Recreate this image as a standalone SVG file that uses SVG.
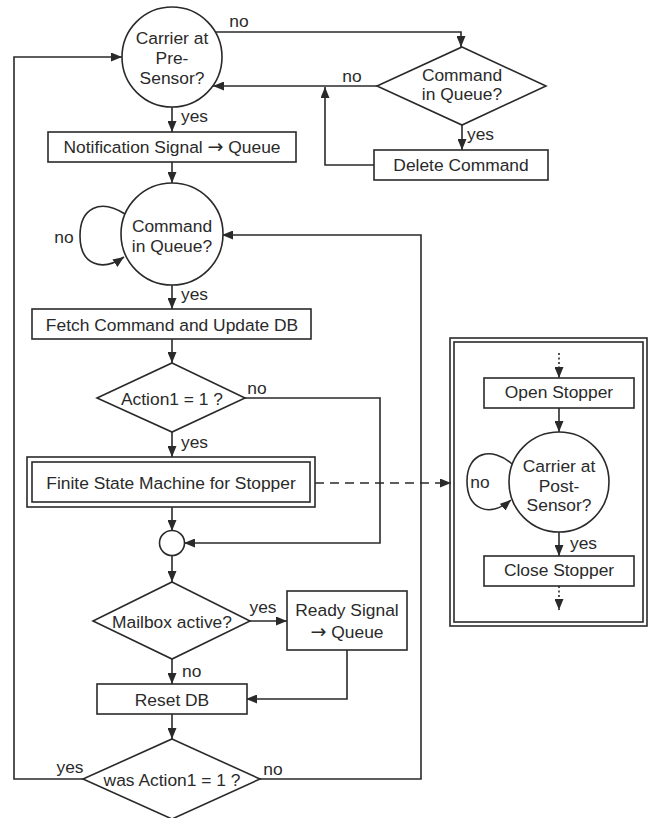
<svg xmlns="http://www.w3.org/2000/svg" width="651" height="818" viewBox="0 0 651 818">
  <defs>
    <marker id="arrow" markerUnits="userSpaceOnUse" markerWidth="11" markerHeight="9" refX="11" refY="4.5" orient="auto">
      <path d="M0,0 L11,4.5 L0,9 z" fill="#2a2a2a"/>
    </marker>
  </defs>
  <style>
    .shape { fill: #ffffff; stroke: #2a2a2a; stroke-width: 1.6; }
    .line { fill: none; stroke: #2a2a2a; stroke-width: 1.6; }
    .arr { marker-end: url(#arrow); }
    .dash { stroke-dasharray: 9 6; }
    .dot { stroke-dasharray: 2 2.5; }
    text { font-family: "Liberation Sans", Arial, sans-serif; font-size: 17.4px; fill: #2a2a2a; }
    .c { text-anchor: middle; }
    .sym { font-family: "DejaVu Sans", sans-serif; font-size: 19px; }
  </style>
  <rect width="651" height="818" fill="#ffffff"/>

  <!-- frame holding the stopper state machine (drawn first, its contents sit on top) -->
  <g id="stopper-panel">
    <rect class="shape" x="450" y="338" width="197" height="288"/>
    <rect class="shape" x="454" y="342" width="189" height="280"/>
  </g>

  <g id="connectors">
    <!-- pre-sensor: no -> command check -->
    <path class="line arr" d="M215,32 H461 V47"/>
    <text x="239" y="27" class="c">no</text>
    <!-- command check: no -> back to pre-sensor -->
    <path class="line arr" d="M377,86 H213"/>
    <text x="352" y="82" class="c">no</text>
    <!-- command check: yes -> delete -->
    <path class="line arr" d="M462,125 V150"/>
    <text x="467" y="140">yes</text>
    <!-- delete -> merge -->
    <path class="line arr" d="M374,165 H325 V87"/>
    <!-- pre-sensor: yes -> notification -->
    <path class="line arr" d="M172,107 V132"/>
    <text x="181" y="122">yes</text>
    <!-- notification -> command in queue -->
    <path class="line arr" d="M172,162 V183"/>
    <!-- command in queue: no self loop -->
    <path class="line arr" d="M125,214 C100,198 80,208 80,236 C80,265 102,272 124,257"/>
    <text x="64" y="243" class="c">no</text>
    <!-- command in queue: yes -> fetch -->
    <path class="line arr" d="M172,285 V309"/>
    <text x="181" y="300">yes</text>
    <!-- fetch -> action1 -->
    <path class="line arr" d="M172,339 V363"/>
    <!-- action1: no -> junction -->
    <path class="line arr" d="M245,398 H380 V543 H184"/>
    <text x="257" y="394" class="c">no</text>
    <!-- action1: yes -> fsm -->
    <path class="line arr" d="M172,432 V457"/>
    <text x="181" y="448">yes</text>
    <!-- fsm -> junction -->
    <path class="line arr" d="M172,507 V531"/>
    <!-- fsm detail reference -->
    <path class="line dash arr" d="M315,483 H451"/>
    <!-- junction -> mailbox -->
    <path class="line arr" d="M172,556 V582"/>
    <!-- mailbox: yes -> ready signal -->
    <path class="line arr" d="M250,621 H287"/>
    <text x="263" y="613" class="c">yes</text>
    <!-- mailbox: no -> reset -->
    <path class="line arr" d="M172,659 V684"/>
    <text x="182" y="677">no</text>
    <!-- ready signal -> reset -->
    <path class="line arr" d="M347,650 V699 H246"/>
    <!-- reset -> was action1 -->
    <path class="line arr" d="M172,714 V739"/>
    <!-- was action1: yes -> pre-sensor -->
    <path class="line arr" d="M83,779 H14 V57 H122"/>
    <text x="70" y="773" class="c">yes</text>
    <!-- was action1: no -> command in queue -->
    <path class="line arr" d="M260,779 H421 V235 H222"/>
    <text x="273" y="775" class="c">no</text>
    <!-- stopper state machine flow -->
    <path class="line dot arr" d="M559,353 V378"/>
    <path class="line arr" d="M559,408 V432"/>
    <path class="line arr" d="M512,464 C492,446 467,452 467,481 C467,510 490,518 511,500"/>
    <text x="480" y="488" class="c">no</text>
    <path class="line arr" d="M559,532 V556"/>
    <text x="570" y="549">yes</text>
    <path class="line dot arr" d="M559,586 V610"/>
  </g>

  <g id="carrier-pre-sensor">
    <circle class="shape" cx="172" cy="57" r="50"/>
    <text x="172" y="44" class="c">Carrier at</text>
    <text x="172" y="64" class="c">Pre-</text>
    <text x="172" y="84" class="c">Sensor?</text>
  </g>

  <g id="command-check">
    <polygon class="shape" points="462,47 546,86 462,125 377,86"/>
    <text x="462" y="81" class="c">Command</text>
    <text x="462" y="100" class="c">in Queue?</text>
  </g>

  <g id="delete-command">
    <rect class="shape" x="374" y="150" width="174" height="30"/>
    <text x="461" y="171" class="c">Delete Command</text>
  </g>

  <g id="notification">
    <rect class="shape" x="48" y="132" width="248" height="30"/>
    <text x="172" y="153" class="c">Notification Signal <tspan class="sym">→</tspan> Queue</text>
  </g>

  <g id="command-in-queue">
    <circle class="shape" cx="172" cy="234" r="51"/>
    <text x="172" y="232" class="c">Command</text>
    <text x="172" y="252" class="c">in Queue?</text>
  </g>

  <g id="fetch-command">
    <rect class="shape" x="32" y="309" width="279" height="30"/>
    <text x="172" y="331" class="c">Fetch Command and Update DB</text>
  </g>

  <g id="action1">
    <polygon class="shape" points="172,363 245,398 172,432 97,398"/>
    <text x="172" y="405" class="c">Action1 = 1 ?</text>
  </g>

  <g id="fsm-stopper">
    <rect class="shape" x="27" y="457" width="288" height="50"/>
    <rect class="shape" x="32" y="462" width="278" height="40"/>
    <text x="171" y="489" class="c">Finite State Machine for Stopper</text>
  </g>

  <g id="junction">
    <circle class="shape" cx="172" cy="543" r="12.5"/>
  </g>

  <g id="mailbox">
    <polygon class="shape" points="172,582 250,621 172,659 93,621"/>
    <text x="172" y="628" class="c">Mailbox active?</text>
  </g>

  <g id="ready-signal">
    <rect class="shape" x="287" y="591" width="120" height="59"/>
    <text x="347" y="616" class="c">Ready Signal</text>
    <text x="347" y="638" class="c"><tspan class="sym">→</tspan> Queue</text>
  </g>

  <g id="reset-db">
    <rect class="shape" x="97" y="684" width="150" height="30"/>
    <text x="172" y="706" class="c">Reset DB</text>
  </g>

  <g id="was-action1">
    <polygon class="shape" points="172,739 260,779 172,819 83,779"/>
    <text x="172" y="786" class="c">was Action1 = 1 ?</text>
  </g>

  <g id="open-stopper">
    <rect class="shape" x="484" y="378" width="150" height="30"/>
    <text x="559" y="398" class="c">Open Stopper</text>
  </g>

  <g id="carrier-post-sensor">
    <circle class="shape" cx="559" cy="482" r="50"/>
    <text x="559" y="472" class="c">Carrier at</text>
    <text x="559" y="492" class="c">Post-</text>
    <text x="559" y="511" class="c">Sensor?</text>
  </g>

  <g id="close-stopper">
    <rect class="shape" x="484" y="556" width="150" height="30"/>
    <text x="559" y="576" class="c">Close Stopper</text>
  </g>
</svg>
